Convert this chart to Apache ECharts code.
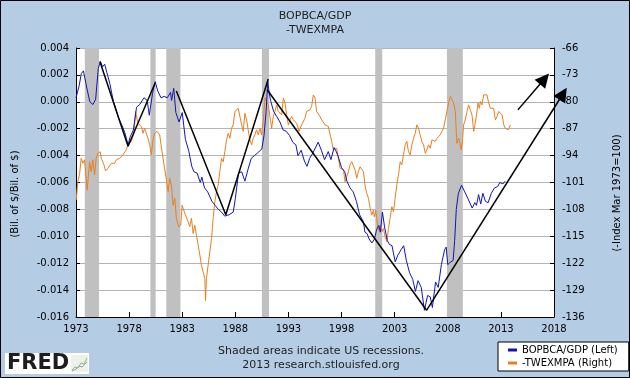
<!DOCTYPE html>
<html><head><meta charset="utf-8">
<script src="https://cdn.jsdelivr.net/npm/echarts/dist/echarts.min.js"></script>
<style>html,body{margin:0;padding:0;background:#b4cde4}#c{width:630px;height:378px}</style>
</head><body><div id="c"></div><script>
// BOPBCA/GDP (left axis), quarterly
const bopYears = [1973.0,1973.3,1973.5,1973.7,1974.0,1974.3,1974.6,1974.85,1975.1,1975.3,1975.5,1975.7,1975.9,1976.2,1976.5,1976.7,1977.0,1977.3,1977.6,1977.9,1978.1,1978.4,1978.7,1979.0,1979.4,1979.7,1979.9,1980.2,1980.45,1980.7,1981.0,1981.3,1981.6,1981.9,1982.0,1982.2,1982.4,1982.7,1983.0,1983.3,1983.6,1983.9,1984.1,1984.4,1984.7,1984.85,1985.1,1985.4,1985.8,1986.1,1986.4,1986.7,1987.0,1987.4,1987.8,1988.0,1988.3,1988.6,1988.9,1989.2,1989.5,1989.8,1990.1,1990.5,1990.7,1990.9,1991.05,1991.2,1991.35,1991.6,1991.9,1992.2,1992.5,1992.8,1993.1,1993.4,1993.7,1993.9,1994.2,1994.5,1994.75,1995.0,1995.3,1995.8,1996.1,1996.4,1996.75,1997.0,1997.3,1997.5,1997.7,1998.0,1998.3,1998.5,1998.8,1999.1,1999.4,1999.7,2000.05,2000.2,2000.4,2000.6,2000.85,2001.1,2001.3,2001.5,2001.65,2001.85,2002.05,2002.3,2002.5,2002.75,2003.05,2003.3,2003.6,2003.85,2004.1,2004.4,2004.7,2004.95,2005.2,2005.5,2005.8,2006.1,2006.35,2006.55,2006.85,2007.1,2007.4,2007.7,2007.85,2008.0,2008.3,2008.5,2008.65,2008.8,2009.0,2009.3,2009.6,2009.9,2010.3,2010.55,2010.7,2010.9,2011.1,2011.3,2011.55,2011.8,2012.1,2012.4,2012.7,2012.9,2013.2,2013.4];
const bopValues = [0.0003,0.0012,0.0021,0.0023,0.0011,0.0000,-0.0002,0.0002,0.0025,0.0030,0.0026,0.0028,0.0022,0.0013,0.0001,-0.0004,-0.0012,-0.0017,-0.0023,-0.0032,-0.0026,-0.0021,-0.0004,-0.0002,0.0003,0.0001,-0.0010,0.0006,0.0015,0.0008,0.0003,0.0004,0.0003,0.0007,0.0001,0.0010,-0.0008,-0.0015,-0.0008,-0.0028,-0.0036,-0.0048,-0.0052,-0.0053,-0.0060,-0.0056,-0.0064,-0.0067,-0.0074,-0.0077,-0.0080,-0.0082,-0.0085,-0.0084,-0.0082,-0.0072,-0.0053,-0.0052,-0.0059,-0.0050,-0.0042,-0.0040,-0.0038,-0.0035,-0.0025,-0.0007,0.0015,0.0006,0.0000,-0.0007,-0.0011,-0.0015,-0.0021,-0.0022,-0.0025,-0.0030,-0.0032,-0.0040,-0.0036,-0.0044,-0.0048,-0.0042,-0.0038,-0.0030,-0.0036,-0.0043,-0.0037,-0.0043,-0.0034,-0.0037,-0.0041,-0.0049,-0.0052,-0.0059,-0.0064,-0.0067,-0.0074,-0.0084,-0.0089,-0.0097,-0.0098,-0.0102,-0.0105,-0.0102,-0.0095,-0.0092,-0.0097,-0.0082,-0.0093,-0.0103,-0.0106,-0.0107,-0.0119,-0.0114,-0.0110,-0.0107,-0.0118,-0.0127,-0.0132,-0.0141,-0.0133,-0.0138,-0.0155,-0.0144,-0.0145,-0.0153,-0.0134,-0.0138,-0.0121,-0.0110,-0.0108,-0.0121,-0.0119,-0.0118,-0.0103,-0.0080,-0.0068,-0.0062,-0.0067,-0.0072,-0.0079,-0.0075,-0.0077,-0.0069,-0.0076,-0.0068,-0.0074,-0.0075,-0.0068,-0.0064,-0.0063,-0.0060,-0.0061,-0.0059];

// -TWEXMPA (right axis)
const twexYears = [1973.02,1973.17,1973.33,1973.49,1973.65,1973.8,1973.96,1974.05,1974.28,1974.43,1974.59,1974.75,1974.9,1975.06,1975.28,1975.38,1975.63,1975.78,1976.0,1976.32,1976.63,1976.79,1977.11,1977.42,1977.73,1977.89,1978.21,1978.46,1978.61,1978.83,1979.15,1979.31,1979.46,1979.62,1979.78,1979.94,1980.09,1980.25,1980.41,1980.63,1980.88,1981.1,1981.29,1981.51,1981.67,1981.82,1981.98,1982.14,1982.3,1982.45,1982.67,1982.86,1982.99,1983.24,1983.55,1983.71,1983.87,1984.03,1984.18,1984.34,1984.5,1984.66,1984.81,1984.97,1985.13,1985.19,1985.28,1985.44,1985.6,1985.76,1985.91,1986.07,1986.23,1986.38,1986.54,1986.7,1986.86,1987.01,1987.17,1987.33,1987.49,1987.64,1987.8,1987.96,1988.11,1988.27,1988.43,1988.59,1988.74,1988.9,1989.06,1989.21,1989.37,1989.53,1989.69,1989.84,1990.0,1990.16,1990.32,1990.47,1990.63,1990.79,1990.94,1991.1,1991.26,1991.42,1991.57,1991.73,1991.89,1992.04,1992.2,1992.36,1992.52,1992.67,1992.83,1992.99,1993.15,1993.3,1993.46,1993.62,1993.77,1993.99,1994.24,1994.55,1994.71,1994.87,1995.03,1995.18,1995.34,1995.5,1995.65,1995.81,1995.97,1996.13,1996.44,1996.6,1996.75,1996.91,1997.07,1997.23,1997.38,1997.54,1997.7,1997.86,1998.01,1998.17,1998.33,1998.48,1998.64,1998.8,1998.96,1999.11,1999.27,1999.43,1999.58,1999.74,1999.9,2000.06,2000.21,2000.37,2000.53,2000.69,2000.84,2001.0,2001.09,2001.22,2001.31,2001.47,2001.63,2001.79,2001.94,2002.1,2002.26,2002.42,2002.57,2002.73,2002.89,2003.04,2003.2,2003.36,2003.52,2003.67,2003.83,2003.99,2004.15,2004.3,2004.46,2004.62,2004.78,2004.93,2005.09,2005.25,2005.4,2005.56,2005.72,2005.88,2006.03,2006.19,2006.35,2006.51,2006.66,2006.82,2006.98,2007.13,2007.29,2007.45,2007.61,2007.76,2007.92,2008.08,2008.24,2008.39,2008.55,2008.71,2008.8,2008.86,2009.02,2009.18,2009.27,2009.4,2009.49,2009.65,2009.81,2009.96,2010.12,2010.28,2010.44,2010.53,2010.66,2010.85,2010.97,2011.07,2011.22,2011.38,2011.54,2011.69,2011.85,2012.01,2012.17,2012.32,2012.48,2012.64,2012.8,2012.95,2013.11,2013.27,2013.42,2013.58,2013.68,2013.9];
const twexValues = [-105.6,-100.8,-99.0,-94.7,-96.0,-95.1,-99.9,-103.0,-95.6,-98.2,-95.1,-99.0,-94.7,-93.4,-93.0,-94.7,-96.4,-98.0,-97.3,-96.0,-96.0,-95.1,-94.7,-93.8,-92.5,-91.2,-90.3,-88.2,-82.5,-85.6,-86.4,-88.2,-86.9,-87.3,-89.5,-91.2,-93.8,-89.9,-88.2,-87.7,-88.6,-93.0,-96.4,-100.3,-103.4,-99.9,-101.7,-106.9,-105.1,-110.3,-112.5,-112.1,-106.9,-109.0,-111.2,-112.5,-110.3,-114.3,-112.1,-114.7,-117.3,-119.9,-122.5,-124.3,-126.0,-131.7,-126.0,-122.5,-119.0,-115.6,-110.3,-106.0,-103.4,-101.7,-98.2,-94.7,-95.6,-93.0,-89.9,-88.2,-89.5,-86.9,-86.0,-82.5,-82.1,-81.7,-83.8,-86.0,-87.7,-83.0,-84.7,-87.3,-89.9,-91.2,-89.5,-88.6,-87.3,-88.6,-86.9,-88.6,-85.1,-79.0,-79.5,-80.8,-83.8,-86.9,-83.8,-82.5,-80.8,-82.5,-83.0,-83.4,-79.0,-80.3,-83.4,-86.0,-84.7,-83.8,-84.7,-84.3,-85.6,-87.7,-86.0,-84.3,-82.5,-83.0,-82.1,-81.2,-78.2,-79.0,-82.5,-82.5,-83.8,-84.7,-86.0,-86.0,-86.4,-86.9,-90.3,-92.5,-93.0,-92.1,-94.7,-97.3,-97.7,-97.7,-100.8,-101.2,-98.2,-96.4,-95.6,-95.1,-97.7,-99.9,-98.2,-96.9,-96.4,-98.2,-101.7,-103.8,-105.1,-107.7,-109.5,-108.2,-109.9,-108.2,-110.3,-113.4,-112.1,-113.8,-113.0,-115.1,-116.4,-113.0,-110.3,-107.3,-108.6,-105.1,-101.7,-99.0,-95.6,-96.4,-93.8,-91.2,-90.3,-93.0,-93.8,-91.2,-89.5,-88.2,-86.0,-86.9,-88.6,-90.3,-91.2,-93.4,-92.5,-91.2,-92.1,-89.9,-89.5,-90.3,-89.5,-89.9,-88.6,-87.7,-86.9,-84.7,-82.5,-80.3,-78.6,-79.0,-80.3,-82.5,-87.7,-90.8,-89.5,-91.2,-92.5,-89.5,-86.0,-84.7,-82.5,-80.8,-82.1,-83.4,-87.7,-86.4,-84.3,-80.3,-81.7,-79.9,-80.8,-78.2,-77.7,-78.2,-80.3,-81.7,-82.1,-81.7,-84.7,-83.8,-82.5,-83.0,-83.4,-86.0,-86.9,-86.4,-87.3,-86.0];

// US recessions (start, end)
const recessionStarts = [1973.83,1980.0,1981.5,1990.5,2001.17,2007.92];
const recessionEnds   = [1975.17,1980.5,1982.83,1991.17,2001.83,2009.42];

// Hand-drawn trend annotations (left-axis units)
const trendA = [[1975.25,0.0030],[1977.9,-0.0033],[1980.45,0.0014]];
const trendB = [[1982.45,0.0008],[1987.1,-0.0084],[1991.1,0.0017]];
const trendC = [[1991.0,0.0009],[2006.0,-0.0155]];
const arrowLong = [[2006.0,-0.0155],[2018.85,0.0006]];
const arrowShort = [[2014.6,-0.0006],[2017.1,0.0017]];

// Axis ticks
const xTicks = {min:1973, max:2018, step:5};
const leftTicks = {min:-0.016, max:0.004, step:0.002};
const rightTicks = {min:-136, max:-66, step:7};

const FONT = 'DejaVu Sans';
const chart = echarts.init(document.getElementById('c'), null, {renderer:'canvas'});
const zip = (a,b) => a.map((v,i)=>[v,b[i]]);
const trendStyle = {type:'line', showSymbol:false, symbol:'none', silent:true, z:4,
  lineStyle:{color:'#000', width:1.5}, itemStyle:{color:'#000'}};

chart.setOption({
  backgroundColor:'#b4cde4',
  animation:false,
  textStyle:{fontFamily:FONT},
  title:{text:'BOPBCA/GDP\n-TWEXMPA', left:'center', top:4,
    textStyle:{fontSize:11, fontWeight:'normal', color:'#222', lineHeight:14, fontFamily:FONT}},
  grid:{left:76, right:76, top:48, bottom:61, show:true, backgroundColor:'#ffffff', borderWidth:0},
  legend:{data:['BOPBCA/GDP (Left)','-TWEXMPA (Right)'], orient:'vertical', left:498, top:342,
    backgroundColor:'#fff', borderColor:'#000', borderWidth:1, borderRadius:0,
    padding:[3,11,3,10], itemWidth:9, itemHeight:3, itemGap:3, icon:'rect',
    textStyle:{fontSize:10, color:'#000', fontFamily:FONT}},
  xAxis:{type:'value', min:xTicks.min, max:xTicks.max, interval:xTicks.step,
    axisLine:{onZero:false, lineStyle:{color:'#000', width:1}},
    axisTick:{inside:true, length:5, lineStyle:{color:'#000'}},
    axisLabel:{color:'#000', fontSize:10, margin:7, formatter:v=>String(Math.round(v))},
    splitLine:{show:false}},
  yAxis:[
    {type:'value', position:'left', min:leftTicks.min, max:leftTicks.max, interval:leftTicks.step,
      axisLine:{show:true, onZero:false, lineStyle:{color:'#000'}},
      axisTick:{show:true, inside:true, length:4, lineStyle:{color:'#000'}},
      axisLabel:{color:'#000', fontSize:10, margin:7,
        formatter:v=>Math.abs(v)<1e-9?'0.000':v.toFixed(3)},
      splitLine:{show:true, lineStyle:{color:'#b4b4b4', width:1}}},
    {type:'value', position:'right', min:rightTicks.min, max:rightTicks.max, interval:rightTicks.step,
      axisLine:{show:true, onZero:false, lineStyle:{color:'#000'}},
      axisTick:{show:true, inside:true, length:4, lineStyle:{color:'#000'}},
      axisLabel:{color:'#000', fontSize:10, margin:8, formatter:v=>String(Math.round(v))},
      splitLine:{show:false}}
  ],
  series:[
    {name:'-TWEXMPA (Right)', type:'line', yAxisIndex:1, data:zip(twexYears,twexValues),
      showSymbol:false, symbol:'none', z:2, lineStyle:{color:'#e8801e', width:1}, itemStyle:{color:'#e8801e'},
      markArea:{silent:true, z:1, itemStyle:{color:'#c0c0c0', opacity:1},
        data:recessionStarts.map((s,i)=>[{xAxis:s},{xAxis:recessionEnds[i]}])}},
    {name:'BOPBCA/GDP (Left)', type:'line', yAxisIndex:0, data:zip(bopYears,bopValues),
      showSymbol:false, symbol:'none', z:3, lineStyle:{color:'#1414b4', width:1}, itemStyle:{color:'#1414b4'}},
    Object.assign({name:'trendA', data:trendA}, trendStyle),
    Object.assign({name:'trendB', data:trendB}, trendStyle),
    Object.assign({name:'trendC', data:trendC}, trendStyle),
    {name:'arrows', type:'lines', coordinateSystem:'cartesian2d', xAxisIndex:0, yAxisIndex:0,
      clip:false, silent:true, z:4, symbol:['none','triangle'], symbolSize:14,
      lineStyle:{color:'#000', width:1.5, opacity:1, curveness:0},
      itemStyle:{color:'#000'},
      data:[{coords:arrowLong},{coords:arrowShort}]}
  ],
  graphic:[
    {type:'rect', shape:{x:0.5, y:0.5, width:629, height:377}, style:{fill:'none', stroke:'#000', lineWidth:1}, z:100},
    {type:'text', x:15, y:194, rotation:Math.PI/2,
      style:{text:'(Bil. of $/Bil. of $)', font:'10px "DejaVu Sans"', fill:'#000', textAlign:'center', textVerticalAlign:'middle'}},
    {type:'text', x:617, y:193, rotation:Math.PI/2,
      style:{text:'(-Index Mar 1973=100)', font:'10px "DejaVu Sans"', fill:'#000', textAlign:'center', textVerticalAlign:'middle'}},
    {type:'text', x:321, y:351,
      style:{text:'Shaded areas indicate US recessions.', font:'11px "DejaVu Sans"', fill:'#222', textAlign:'center', textVerticalAlign:'middle'}},
    {type:'text', x:321, y:365,
      style:{text:'2013 research.stlouisfed.org', font:'11px "DejaVu Sans"', fill:'#222', textAlign:'center', textVerticalAlign:'middle'}},
    {type:'rect', shape:{x:5, y:353, width:84, height:21}, style:{fill:'#ffffff'}},
    {type:'text', x:7, y:364,
      style:{text:'FRED', font:'bold 21px "DejaVu Sans"', fill:'#1e1e1e', textAlign:'left', textVerticalAlign:'middle'}},
    {type:'rect', shape:{x:71, y:355, width:17, height:17}, style:{fill:'#eef0ea'}},
    {type:'polyline', shape:{points:[[72,370],[75,367],[78,368],[81,363],[84,364],[87,358]]}, style:{stroke:'#9ab87a', lineWidth:1, fill:'none'}},
    {type:'polyline', shape:{points:[[72,371],[76,369],[79,366],[82,367],[87,362]]}, style:{stroke:'#8aa0c8', lineWidth:1, fill:'none'}}
  ]
});
</script></body></html>
